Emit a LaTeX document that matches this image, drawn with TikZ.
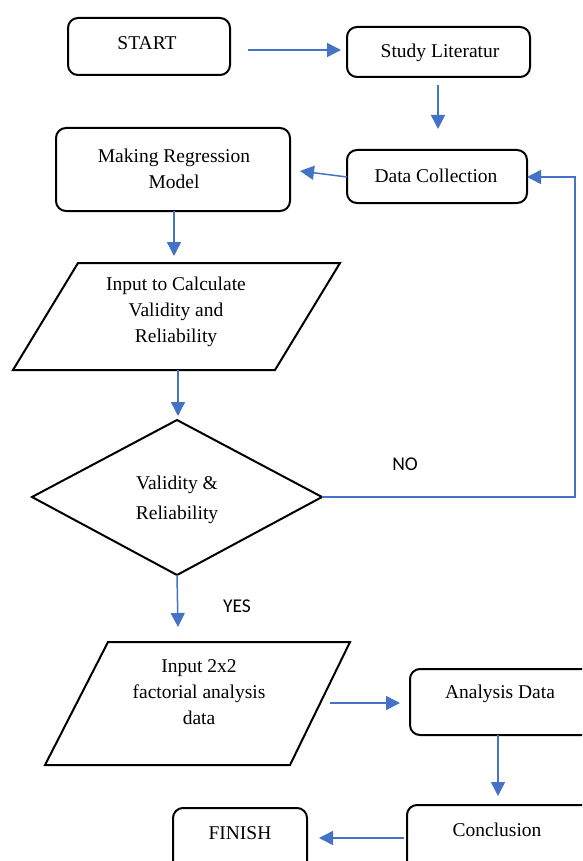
\documentclass[tikz,border=0pt]{standalone}
\usepackage{fontspec}
\setmainfont{Liberation Serif}
\newfontfamily\labelfont{Carlito}
\usetikzlibrary{arrows.meta,calc}
\definecolor{flowblue}{HTML}{4472C4}
\begin{document}
\begin{tikzpicture}[x=1pt,y=-1pt,
  txt/.style={font=\fontsize{19.5}{26}\selectfont, align=center, inner sep=0pt},
  rbox/.style={draw=black, line width=2pt, rounded corners=10pt, inner sep=0pt},
  shapeline/.style={draw=black, line width=2pt, line join=miter},
  arr/.style={draw=flowblue, line width=1.5pt, -{Triangle[length=14pt,width=14pt]}},
  plainline/.style={draw=flowblue, line width=1.5pt},
  yesno/.style={font=\labelfont\fontsize{19.5}{22}\selectfont, inner sep=0pt}]
\useasboundingbox (0,0) rectangle (582,861);
\clip (0,0) rectangle (582,861);
\fill[white] (0,0) rectangle (582,861);

% rounded boxes
\node[rbox, minimum width=162pt, minimum height=57pt] (start) at (149,46.5) {};
\node[txt] (startT) at (147,43) {START};
\node[rbox, minimum width=183pt, minimum height=50pt] (study) at (438.5,52) {};
\node[txt] (studyT) at (440,53) {Study Literatur};
\node[rbox, minimum width=180pt, minimum height=53pt] (data) at (437,176.5) {};
\node[txt] (dataT) at (436,176) {Data Collection};
\node[rbox, minimum width=234pt, minimum height=83pt] (model) at (173,169.5) {};
\node[txt] (modelT) at (174,169) {Making Regression\\Model};

% parallelogram 1
\coordinate (p1a) at (78,263);
\coordinate (p1b) at (340,263);
\coordinate (p1c) at (275,370);
\coordinate (p1d) at (13,370);
\draw[shapeline] (p1a) -- (p1b) -- (p1c) -- (p1d) -- cycle;
\node[txt] (p1T) at (176,312) {Input to Calculate\\Validity and\\Reliability};

% diamond
\coordinate (dt) at (177,420);
\coordinate (dr) at (322,497);
\coordinate (db) at (177,575);
\coordinate (dl) at (32,497);
\draw[shapeline] (dt) -- (dr) -- (db) -- (dl) -- cycle;
\node[txt, font=\fontsize{19.5}{30}\selectfont] (dT) at (177,500) {Validity \&\\Reliability};

% parallelogram 2
\coordinate (p2a) at (108,642);
\coordinate (p2b) at (350,642);
\coordinate (p2c) at (290,765);
\coordinate (p2d) at (45,765);
\draw[shapeline] (p2a) -- (p2b) -- (p2c) -- (p2d) -- cycle;
\node[txt] (p2T) at (199,692) {Input 2x2\\factorial analysis\\data};

% lower boxes
\node[rbox, minimum width=190pt, minimum height=66pt] (analysis) at (505,702) {};
\node[txt] (analysisT) at (500,694) {Analysis Data};
\node[rbox, minimum width=193pt, minimum height=75pt] (concl) at (503.5,842.5) {};
\node[txt] (conclT) at (497,830) {Conclusion};
\node[rbox, minimum width=134pt, minimum height=72pt] (finish) at (240,844) {};
\node[txt] (finishT) at (240,833) {FINISH};

% labels
\node[yesno] (no) at (405,464) {NO};
\node[yesno] (yes) at (237,606) {YES};

% connectors
\coordinate (a1s) at (248,50);
\coordinate (a1e) at (341,50);
\draw[arr] (a1s) -- (a1e);
\coordinate (a2s) at (438,85);
\coordinate (a2e) at (438,129);
\draw[arr] (a2s) -- (a2e);
\coordinate (a3s) at (347,177);
\coordinate (a3e) at (300,171);
\draw[arr] (a3s) -- (a3e);
\coordinate (a4s) at (174,211);
\coordinate (a4e) at (174,256);
\draw[arr] (a4s) -- (a4e);
\coordinate (a5s) at (178,370);
\coordinate (a5e) at (178,416);
\draw[arr] (a5s) -- (a5e);
\coordinate (nocorner1) at (575,497);
\coordinate (nocorner2) at (575,177);
\coordinate (noend) at (527,177);
\draw[plainline, -{Triangle[length=14pt,width=14pt]}, line join=miter] (dr) -- (nocorner1) -- (nocorner2) -- (noend);
\coordinate (a6e) at (178,627);
\draw[arr] (db) -- (a6e);
\coordinate (a7s) at (330,703);
\coordinate (a7e) at (400,703);
\draw[arr] (a7s) -- (a7e);
\coordinate (a8s) at (498,735);
\coordinate (a8e) at (498,796);
\draw[arr] (a8s) -- (a8e);
\coordinate (a9s) at (404,838);
\coordinate (a9e) at (319,838);
\draw[arr] (a9s) -- (a9e);
\end{tikzpicture}
\end{document}
